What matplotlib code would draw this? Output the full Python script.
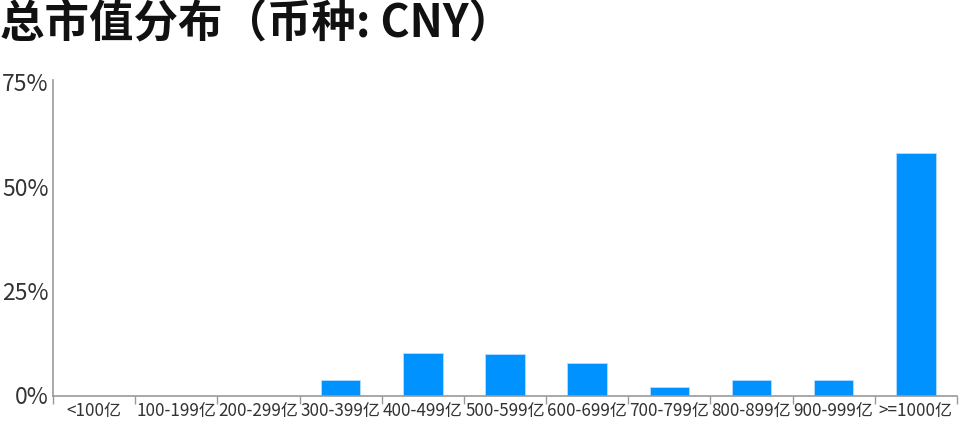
import matplotlib
matplotlib.use("Agg")
import numpy as np
import matplotlib.pyplot as plt
from matplotlib.ticker import FixedLocator

plt.rcParams['font.family'] = ['Noto Sans CJK SC', 'DejaVu Sans']

title = "总市值分布（币种: CNY）"
categories = ["<100亿", "100-199亿", "200-299亿", "300-399亿", "400-499亿",
              "500-599亿", "600-699亿", "700-799亿", "800-899亿", "900-999亿",
              ">=1000亿"]
shares = [0.0, 0.0, 0.0, 3.7, 10.2, 9.9, 7.8, 2.0, 3.7, 3.7, 58.0]
y_ticks = [0, 25, 50, 75]
y_labels = ["0%", "25%", "50%", "75%"]

fig = plt.figure(figsize=(9.6, 4.25), dpi=100)
ax = fig.add_axes([53 / 960, 1 - 395.5 / 425, 904 / 960, 315.5 / 425])

x = np.arange(len(categories))
ax.bar(x, shares, width=0.48, color="#0092FF", edgecolor="#b8dcff", linewidth=0.6, zorder=2)

ax.set_xlim(-0.5, len(categories) - 0.5)
ax.set_ylim(0, 75.5)

# ticks sit between the categories, labels centred under the bars
ax.xaxis.set_major_locator(FixedLocator(np.arange(len(categories) + 1) - 0.5))
ax.xaxis.set_minor_locator(FixedLocator(x))
ax.set_xticklabels([])
ax.set_xticklabels(categories, minor=True)
ax.tick_params(axis="x", which="major", length=6, width=1, color="#999999")
ax.tick_params(axis="x", which="minor", length=0, pad=5, labelsize=12.3, labelcolor="#333333")

ax.set_yticks(y_ticks)
ax.set_yticklabels(y_labels)
ax.tick_params(axis="y", length=0, pad=3, labelsize=16.5, labelcolor="#333333")
for lbl in ax.get_yticklabels():
    lbl.set_fontweight("light")

for side in ["top", "right"]:
    ax.spines[side].set_visible(False)
for side in ["left", "bottom"]:
    ax.spines[side].set_color("#999999")
    ax.spines[side].set_linewidth(1.2)

fig.text(0.0, 1 - 1 / 425, title, ha="left", va="top", fontsize=32, fontweight="bold", color="#111111")

fig.savefig("out.png", dpi=100)
